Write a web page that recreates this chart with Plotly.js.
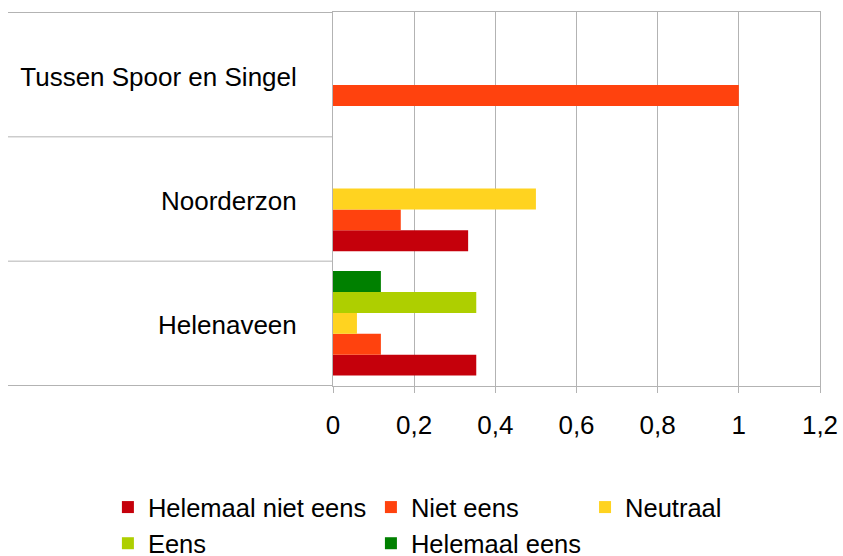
<!DOCTYPE html>
<html>
<head>
<meta charset="utf-8">
<script src="https://cdn.plot.ly/plotly-3.0.1.min.js"></script>
<style>html,body{margin:0;padding:0;background:#fff;}#chart{width:843px;height:556px;}</style>
</head>
<body>
<div id="chart"></div>
<script>
// Categories (bottom to top)
const categories = ['Helenaveen', 'Noorderzon', 'Tussen Spoor en Singel'];

// Series values per category
const helemaalNietEens = [0.353, 0.333, 0];
const nietEens         = [0.118, 0.167, 1.0];
const neutraal         = [0.059, 0.5,   0];
const eens             = [0.353, 0,     0];
const helemaalEens     = [0.118, 0,     0];

const seriesNames = ['Helemaal niet eens', 'Niet eens', 'Neutraal', 'Eens', 'Helemaal eens'];
const seriesValues = [helemaalNietEens, nietEens, neutraal, eens, helemaalEens];
const seriesColors = ['#C5000B', '#FF420E', '#FFD320', '#AECF00', '#008000'];
const seriesLegend = ['legend', 'legend2', 'legend3', 'legend', 'legend2'];

const xTicks = [0, 0.2, 0.4, 0.6, 0.8, 1, 1.2];

const FONT = 'Liberation Sans, Arial, sans-serif';
const GRID = '#b3b3b3';

const traces = seriesNames.map((name, i) => ({
  type: 'bar',
  orientation: 'h',
  name: name,
  y: categories,
  x: seriesValues[i],
  marker: {color: seriesColors[i], line: {width: 0}},
  legend: seriesLegend[i],
  hoverinfo: 'skip'
}));

const legendBase = {
  orientation: 'v',
  xref: 'container', yref: 'container',
  yanchor: 'top', xanchor: 'left',
  y: 0.1295,
  font: {family: FONT, size: 25.5, color: '#000'},
  bgcolor: 'rgba(0,0,0,0)',
  borderwidth: 0,
  traceorder: 'normal',
  itemwidth: 30,
  tracegroupgap: 0
};

// separator lines (frame extension to the left of the plot)
const plotW = 843 - 333 - 23;
const leftExt = -(333 - 8) / plotW;
const shapes = [-0.5, 0.5, 1.5, 2.5].map(yv => ({
  type: 'line', xref: 'paper', yref: 'y',
  x0: leftExt, x1: 0, y0: yv, y1: yv,
  line: {color: GRID, width: 1}
}));

const layout = {
  width: 843, height: 556,
  margin: {l: 333, r: 23, t: 12, b: 170, pad: 0, autoexpand: false},
  paper_bgcolor: '#fff', plot_bgcolor: '#fff',
  separators: ',.',
  font: {family: FONT, size: 26, color: '#000'},
  barmode: 'group',
  bargap: 0.16,
  bargroupgap: 0,
  showlegend: true,
  xaxis: {
    range: [0, 1.2],
    tickvals: xTicks,
    showgrid: true, gridcolor: GRID, gridwidth: 1,
    zeroline: false,
    showline: true, linecolor: GRID, linewidth: 1, mirror: true,
    ticks: 'outside', ticklen: 6, tickcolor: GRID,
    ticklabelstandoff: 10,
    tickfont: {family: FONT, size: 26, color: '#000'},
    automargin: false,
    fixedrange: true
  },
  yaxis: {
    type: 'category',
    categoryorder: 'array', categoryarray: categories,
    showgrid: false, zeroline: false,
    showline: true, linecolor: GRID, linewidth: 1, mirror: true,
    ticks: '',
    ticklabelstandoff: 30,
    ticklabelshift: 2,
    tickfont: {family: FONT, size: 26, color: '#000'},
    automargin: false,
    fixedrange: true
  },
  shapes: shapes,
  legend: Object.assign({}, legendBase, {x: 0.128}),
  legend2: Object.assign({}, legendBase, {x: 0.440}),
  legend3: Object.assign({}, legendBase, {x: 0.694})
};

Plotly.newPlot('chart', traces, layout, {displayModeBar: false, staticPlot: true});
</script>
</body>
</html>
